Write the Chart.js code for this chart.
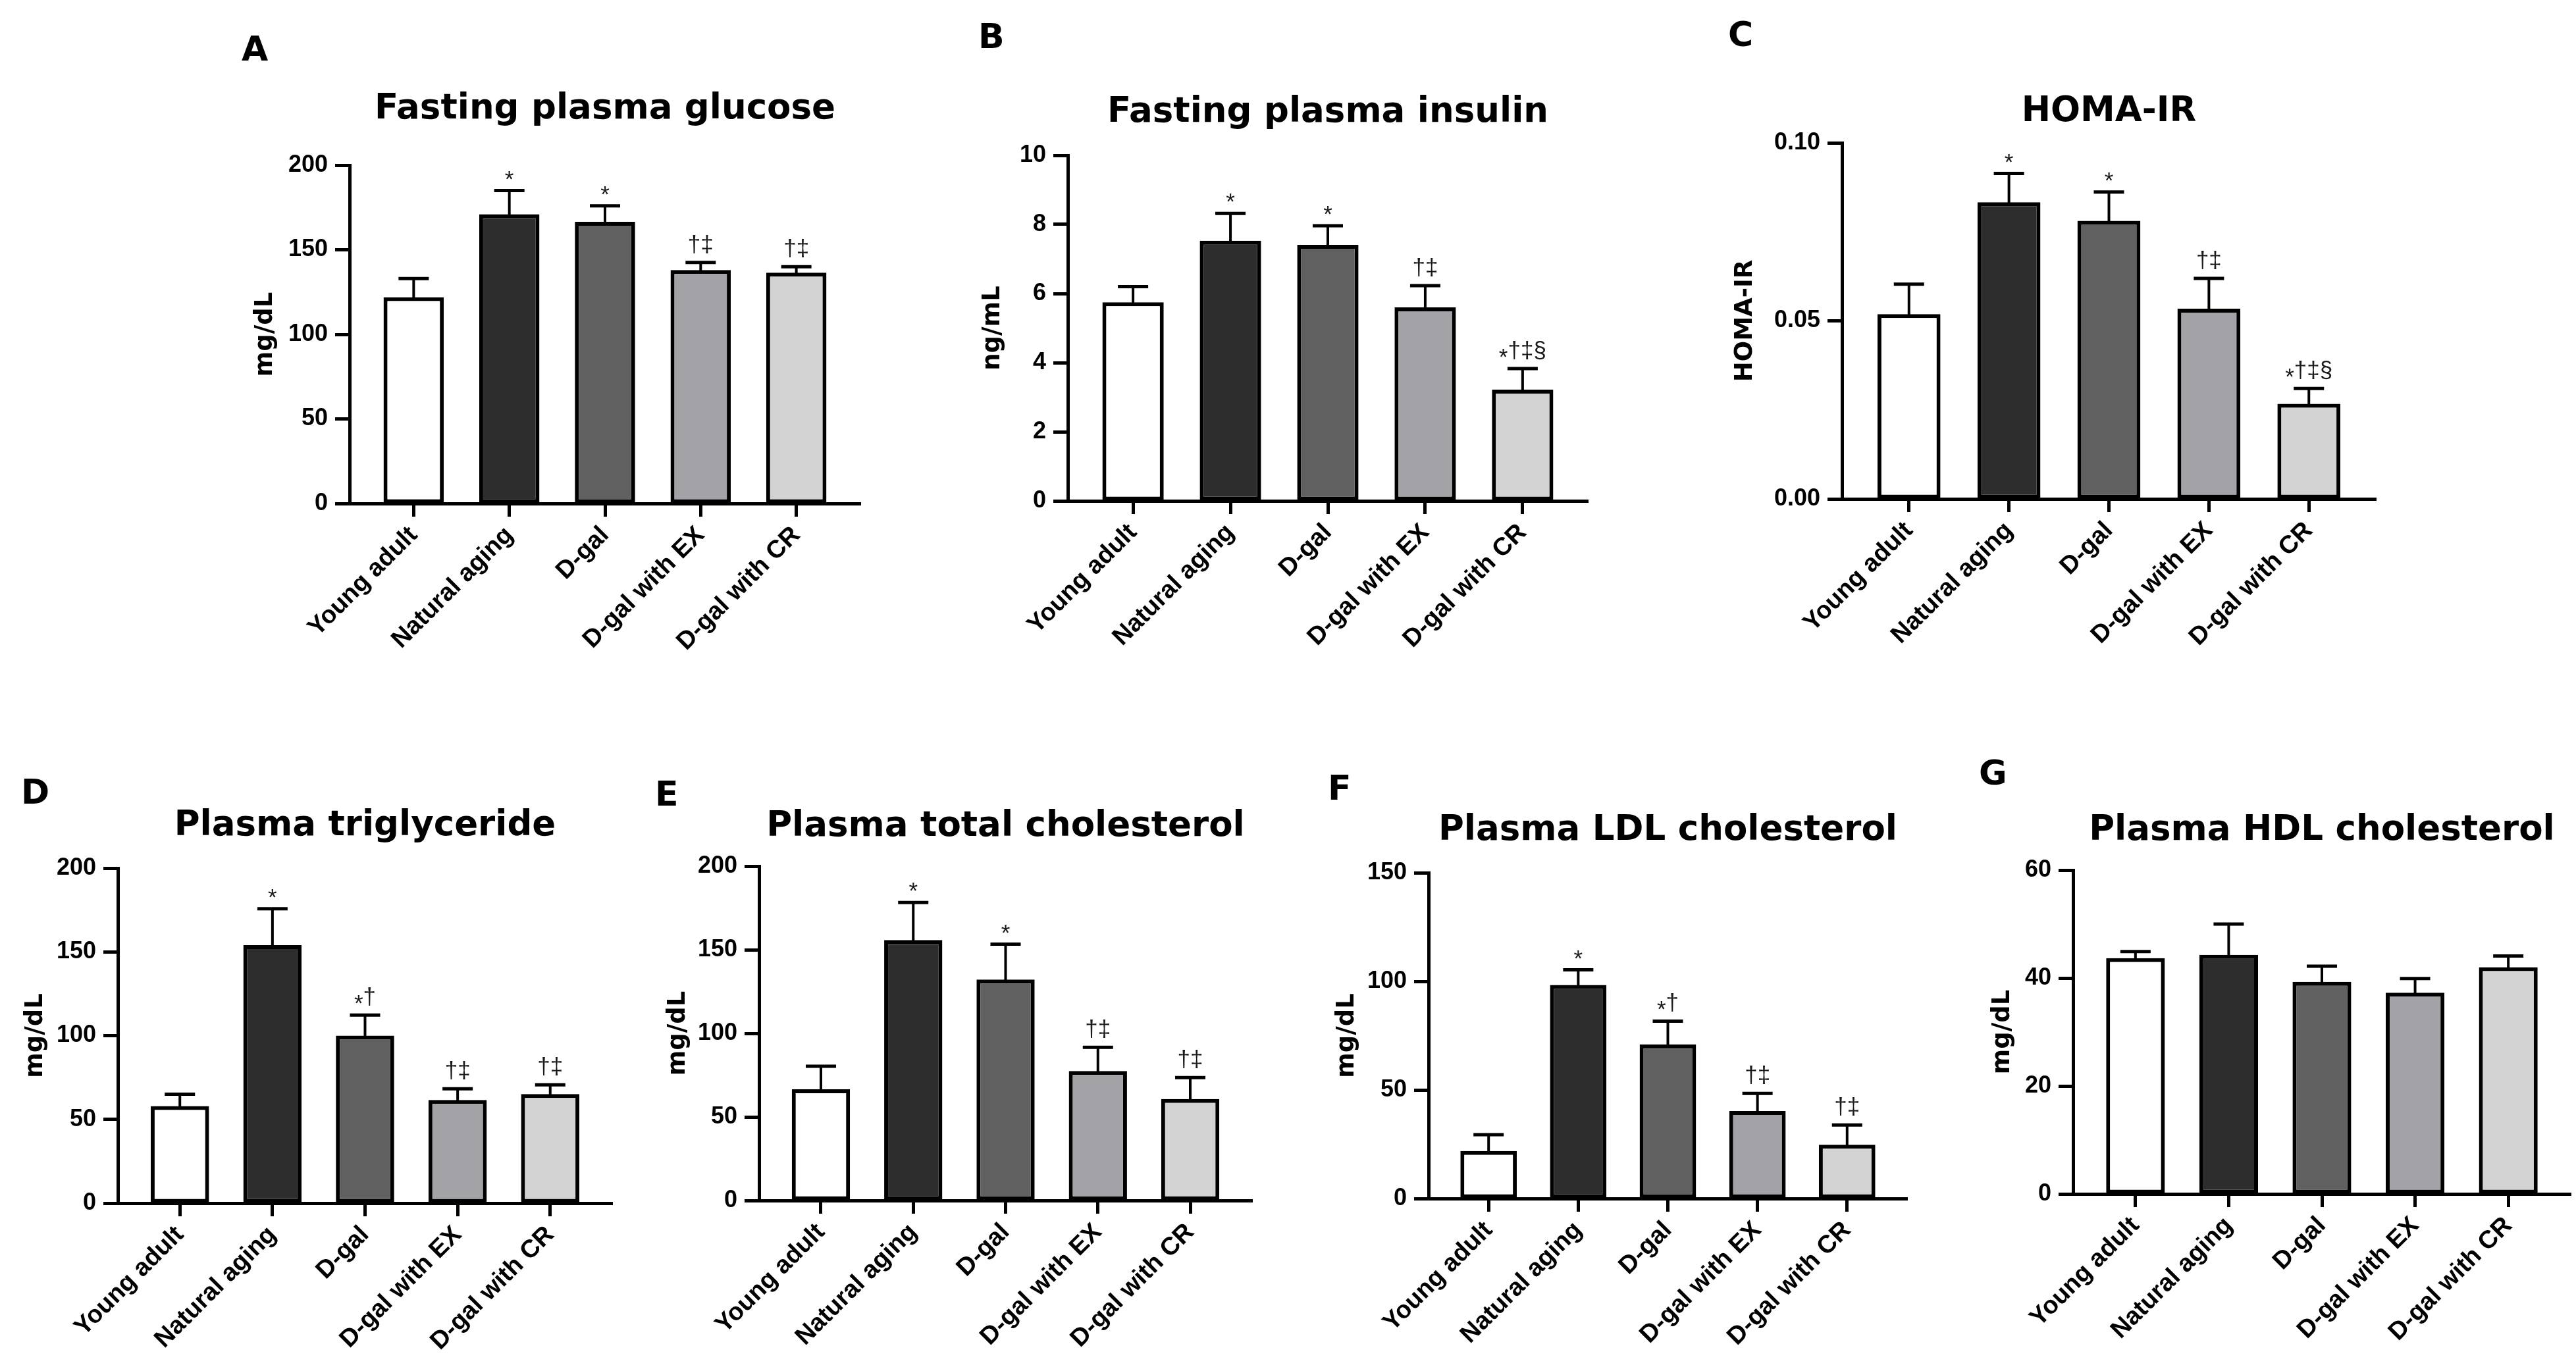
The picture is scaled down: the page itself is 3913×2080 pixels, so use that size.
<!DOCTYPE html>
<html>
<head>
<meta charset="utf-8">
<script src="https://cdn.jsdelivr.net/npm/chart.js@4.4.1/dist/chart.umd.min.js"></script>
<style>
  body { margin: 0; background: #fff; }
  #page { position: relative; width: 3913px; height: 2080px; overflow: hidden; background: #fff; }
  #page canvas { position: absolute; }
  .letter { position: absolute; font: bold 52px "DejaVu Sans"; line-height: 52px; color: #000; }
</style>
</head>
<body>
<div id="page"></div>
<script>
// groups
const groups = ["Young adult", "Natural aging", "D-gal", "D-gal with EX", "D-gal with CR"];
const barColors = ["#ffffff", "#2d2d2d", "#606060", "#a3a3a7", "#d3d3d3"];

// A - fasting glucose (mg/dL)
const glucoseMean = [122, 171, 166.5, 138, 136.5];
const glucoseSem = [11, 14, 9.5, 4.5, 3.5];
const glucoseSig = ["", "*", "*", "†‡", "†‡"];
const glucoseTicks = [0, 50, 100, 150, 200];

// B - fasting insulin (ng/mL)
const insulinMean = [5.75, 7.53, 7.41, 5.6, 3.22];
const insulinSem = [0.45, 0.79, 0.55, 0.63, 0.61];
const insulinSig = ["", "*", "*", "†‡", "*†‡§"];
const insulinTicks = [0, 2, 4, 6, 8, 10];

// C - HOMA-IR
const homaMean = [0.0519, 0.0833, 0.0781, 0.0534, 0.0267];
const homaSem = [0.0084, 0.0081, 0.0081, 0.0085, 0.0043];
const homaSig = ["", "*", "*", "†‡", "*†‡§"];
const homaTicks = [0, 0.05, 0.1];

// D - triglyceride
const tgMean = [58, 154, 100, 61.6, 65.1];
const tgSem = [7, 21.7, 12.3, 6.7, 5.5];
const tgSig = ["", "*", "*†", "†‡", "†‡"];
const tgTicks = [0, 50, 100, 150, 200];

// E - total cholesterol
const tcMean = [66.5, 155.8, 132.2, 77.5, 60.7];
const tcSem = [13.8, 22.4, 21.1, 14.1, 12.8];
const tcSig = ["", "*", "*", "†‡", "†‡"];
const tcTicks = [0, 50, 100, 150, 200];

// F - LDL
const ldlMean = [21.9, 98.3, 71, 40.3, 24.8];
const ldlSem = [7.5, 7, 10.7, 8.1, 9.1];
const ldlSig = ["", "*", "*†", "†‡", "†‡"];
const ldlTicks = [0, 50, 100, 150];

// G - HDL
const hdlMean = [43.7, 44.3, 39.3, 37.3, 42];
const hdlSem = [1.2, 5.7, 2.9, 2.6, 2.1];
const hdlSig = ["", "", "", "", ""];
const hdlTicks = [0, 20, 40, 60];

// page layout (px)
const panels = [
  { letter: "A", title: "Fasting plasma glucose", yTitle: "mg/dL", mean: glucoseMean, sem: glucoseSem, sig: glucoseSig, ticks: glucoseTicks, dec: 0,
    pos: { lx: 367, ly: 54, yTitleX: 403, axisX: 531, right: 1307, titleMid: 166, top: 251, bottom: 765 } },
  { letter: "B", title: "Fasting plasma insulin", yTitle: "ng/mL", mean: insulinMean, sem: insulinSem, sig: insulinSig, ticks: insulinTicks, dec: 0,
    pos: { lx: 1486, ly: 35, yTitleX: 1508, axisX: 1622, right: 2412, titleMid: 171, top: 236, bottom: 761 } },
  { letter: "C", title: "HOMA-IR", yTitle: "HOMA-IR", mean: homaMean, sem: homaSem, sig: homaSig, ticks: homaTicks, dec: 2,
    pos: { lx: 2625, ly: 32, yTitleX: 2651, axisX: 2798, right: 3609, titleMid: 170, top: 217, bottom: 758 } },
  { letter: "D", title: "Plasma triglyceride", yTitle: "mg/dL", mean: tgMean, sem: tgSem, sig: tgSig, ticks: tgTicks, dec: 0,
    pos: { lx: 32, ly: 1183, yTitleX: 54, axisX: 179, right: 930, titleMid: 1255, top: 1319, bottom: 1828 } },
  { letter: "E", title: "Plasma total cholesterol", yTitle: "mg/dL", mean: tcMean, sem: tcSem, sig: tcSig, ticks: tcTicks, dec: 0,
    pos: { lx: 995, ly: 1186, yTitleX: 1030, axisX: 1153, right: 1902, titleMid: 1256, top: 1316, bottom: 1824 } },
  { letter: "F", title: "Plasma LDL cholesterol", yTitle: "mg/dL", mean: ldlMean, sem: ldlSem, sig: ldlSig, ticks: ldlTicks, dec: 0,
    pos: { lx: 2017, ly: 1177, yTitleX: 2046, axisX: 2170, right: 2897, titleMid: 1262, top: 1326, bottom: 1821 } },
  { letter: "G", title: "Plasma HDL cholesterol", yTitle: "mg/dL", mean: hdlMean, sem: hdlSem, sig: hdlSig, ticks: hdlTicks, dec: 0,
    pos: { lx: 3006, ly: 1154, yTitleX: 3042, axisX: 3149, right: 3905, titleMid: 1262, top: 1322, bottom: 1814 } },
];

const TICK_FONT = { family: "'Liberation Sans', Arial, sans-serif", size: 36, weight: "bold" };
const CAT_FONT = { family: "'Liberation Sans', Arial, sans-serif", size: 38, weight: "bold" };
const TITLE_FONT = { family: "'DejaVu Sans', sans-serif", size: 53, weight: "bold" };
const YTITLE_FONT = { family: "'DejaVu Sans', sans-serif", size: 37, weight: "bold" };
const X_AXIS_H = 300;
const PAD_R = 8;

// mean + SEM whiskers and significance marks
const errorBars = {
  id: "errorBars",
  afterDatasetsDraw(chart) {
    const ds = chart.data.datasets[0];
    const meta = chart.getDatasetMeta(0);
    const y = chart.scales.y;
    const ctx = chart.ctx;
    ctx.save();
    ctx.strokeStyle = "#000";
    ctx.lineCap = "butt";
    meta.data.forEach((bar, i) => {
      const capY = y.getPixelForValue(ds.data[i].y + ds.sem[i]);
      ctx.lineWidth = 4;
      ctx.beginPath();
      ctx.moveTo(bar.x, bar.y + 3);
      ctx.lineTo(bar.x, capY);
      ctx.stroke();
      ctx.lineWidth = 5;
      ctx.beginPath();
      ctx.moveTo(bar.x - 23, capY);
      ctx.lineTo(bar.x + 23, capY);
      ctx.stroke();

      const s = ds.sig[i];
      if (!s) return;
      ctx.font = "35px 'Liberation Sans', Arial, sans-serif";
      ctx.fillStyle = "#1a1a1a";
      ctx.textAlign = "left";
      ctx.textBaseline = "alphabetic";
      const chars = Array.from(s);
      const total = chars.reduce((w, c) => w + ctx.measureText(c).width, 0);
      let x = bar.x - total / 2;
      const base = capY - 16;
      chars.forEach(c => {
        ctx.fillText(c, x, c === "*" ? base + 10 : base);
        x += ctx.measureText(c).width;
      });
    });
    ctx.restore();
  }
};

const page = document.getElementById("page");

panels.forEach(p => {
  const q = p.pos;
  const yTitleLH = YTITLE_FONT.size * 1.2;
  const titleLH = TITLE_FONT.size * 1.2;
  const left = Math.round(q.yTitleX - yTitleLH / 2);
  const top = Math.round(q.titleMid - titleLH / 2);
  const width = q.right - left + PAD_R;
  const height = q.bottom - top + X_AXIS_H;
  const yAxisW = q.axisX - left;
  const titleGap = q.top - top - titleLH;

  const letter = document.createElement("div");
  letter.className = "letter";
  letter.textContent = p.letter;
  letter.style.left = q.lx + "px";
  letter.style.top = (q.ly - 6) + "px";
  page.appendChild(letter);

  const canvas = document.createElement("canvas");
  canvas.width = width;
  canvas.height = height;
  canvas.style.left = left + "px";
  canvas.style.top = top + "px";
  canvas.style.width = width + "px";
  canvas.style.height = height + "px";
  page.appendChild(canvas);

  new Chart(canvas.getContext("2d"), {
    type: "bar",
    data: {
      datasets: [{
        data: p.mean.map((v, i) => ({ x: i, y: v })),
        sem: p.sem,
        sig: p.sig,
        backgroundColor: barColors,
        borderColor: "#000",
        borderWidth: 6,
        borderSkipped: false,
        barPercentage: 0.63,
        categoryPercentage: 1,
      }],
    },
    options: {
      responsive: false,
      animation: false,
      devicePixelRatio: 1,
      layout: { padding: { left: 0, top: 0, right: PAD_R, bottom: 0 } },
      plugins: {
        legend: { display: false },
        tooltip: { enabled: false },
        title: {
          display: true,
          text: p.title,
          color: "#000",
          font: TITLE_FONT,
          fullSize: false,
          padding: { top: 0, bottom: titleGap },
        },
      },
      scales: {
        x: {
          type: "linear",
          offset: false,
          min: -0.67,
          max: 4.67,
          bounds: "data",
          afterBuildTicks: axis => { axis.ticks = groups.map((g, i) => ({ value: i })); },
          afterFit: axis => { axis.height = X_AXIS_H; },
          ticks: {
            autoSkip: false,
            minRotation: 45,
            maxRotation: 45,
            padding: 6,
            color: "#000",
            font: CAT_FONT,
            callback: v => groups[v],
          },
          grid: { offset: false, drawOnChartArea: false, drawTicks: true, tickLength: 20, tickWidth: 5, tickColor: "#000", color: "#000" },
          border: { display: true, width: 5, color: "#000" },
        },
        y: {
          min: 0,
          max: p.ticks[p.ticks.length - 1],
          afterBuildTicks: axis => { axis.ticks = p.ticks.map(v => ({ value: v })); },
          afterFit: axis => { axis.width = yAxisW; },
          ticks: {
            padding: 11,
            color: "#000",
            font: TICK_FONT,
            callback: v => Number(v).toFixed(p.dec),
          },
          title: { display: true, text: p.yTitle, color: "#000", font: YTITLE_FONT, padding: 0 },
          grid: { drawOnChartArea: false, drawTicks: true, tickLength: 22, tickWidth: 5, tickColor: "#000", color: "#000" },
          border: { display: true, width: 5, color: "#000" },
        },
      },
    },
    plugins: [errorBars],
  });
});
</script>
</body>
</html>
